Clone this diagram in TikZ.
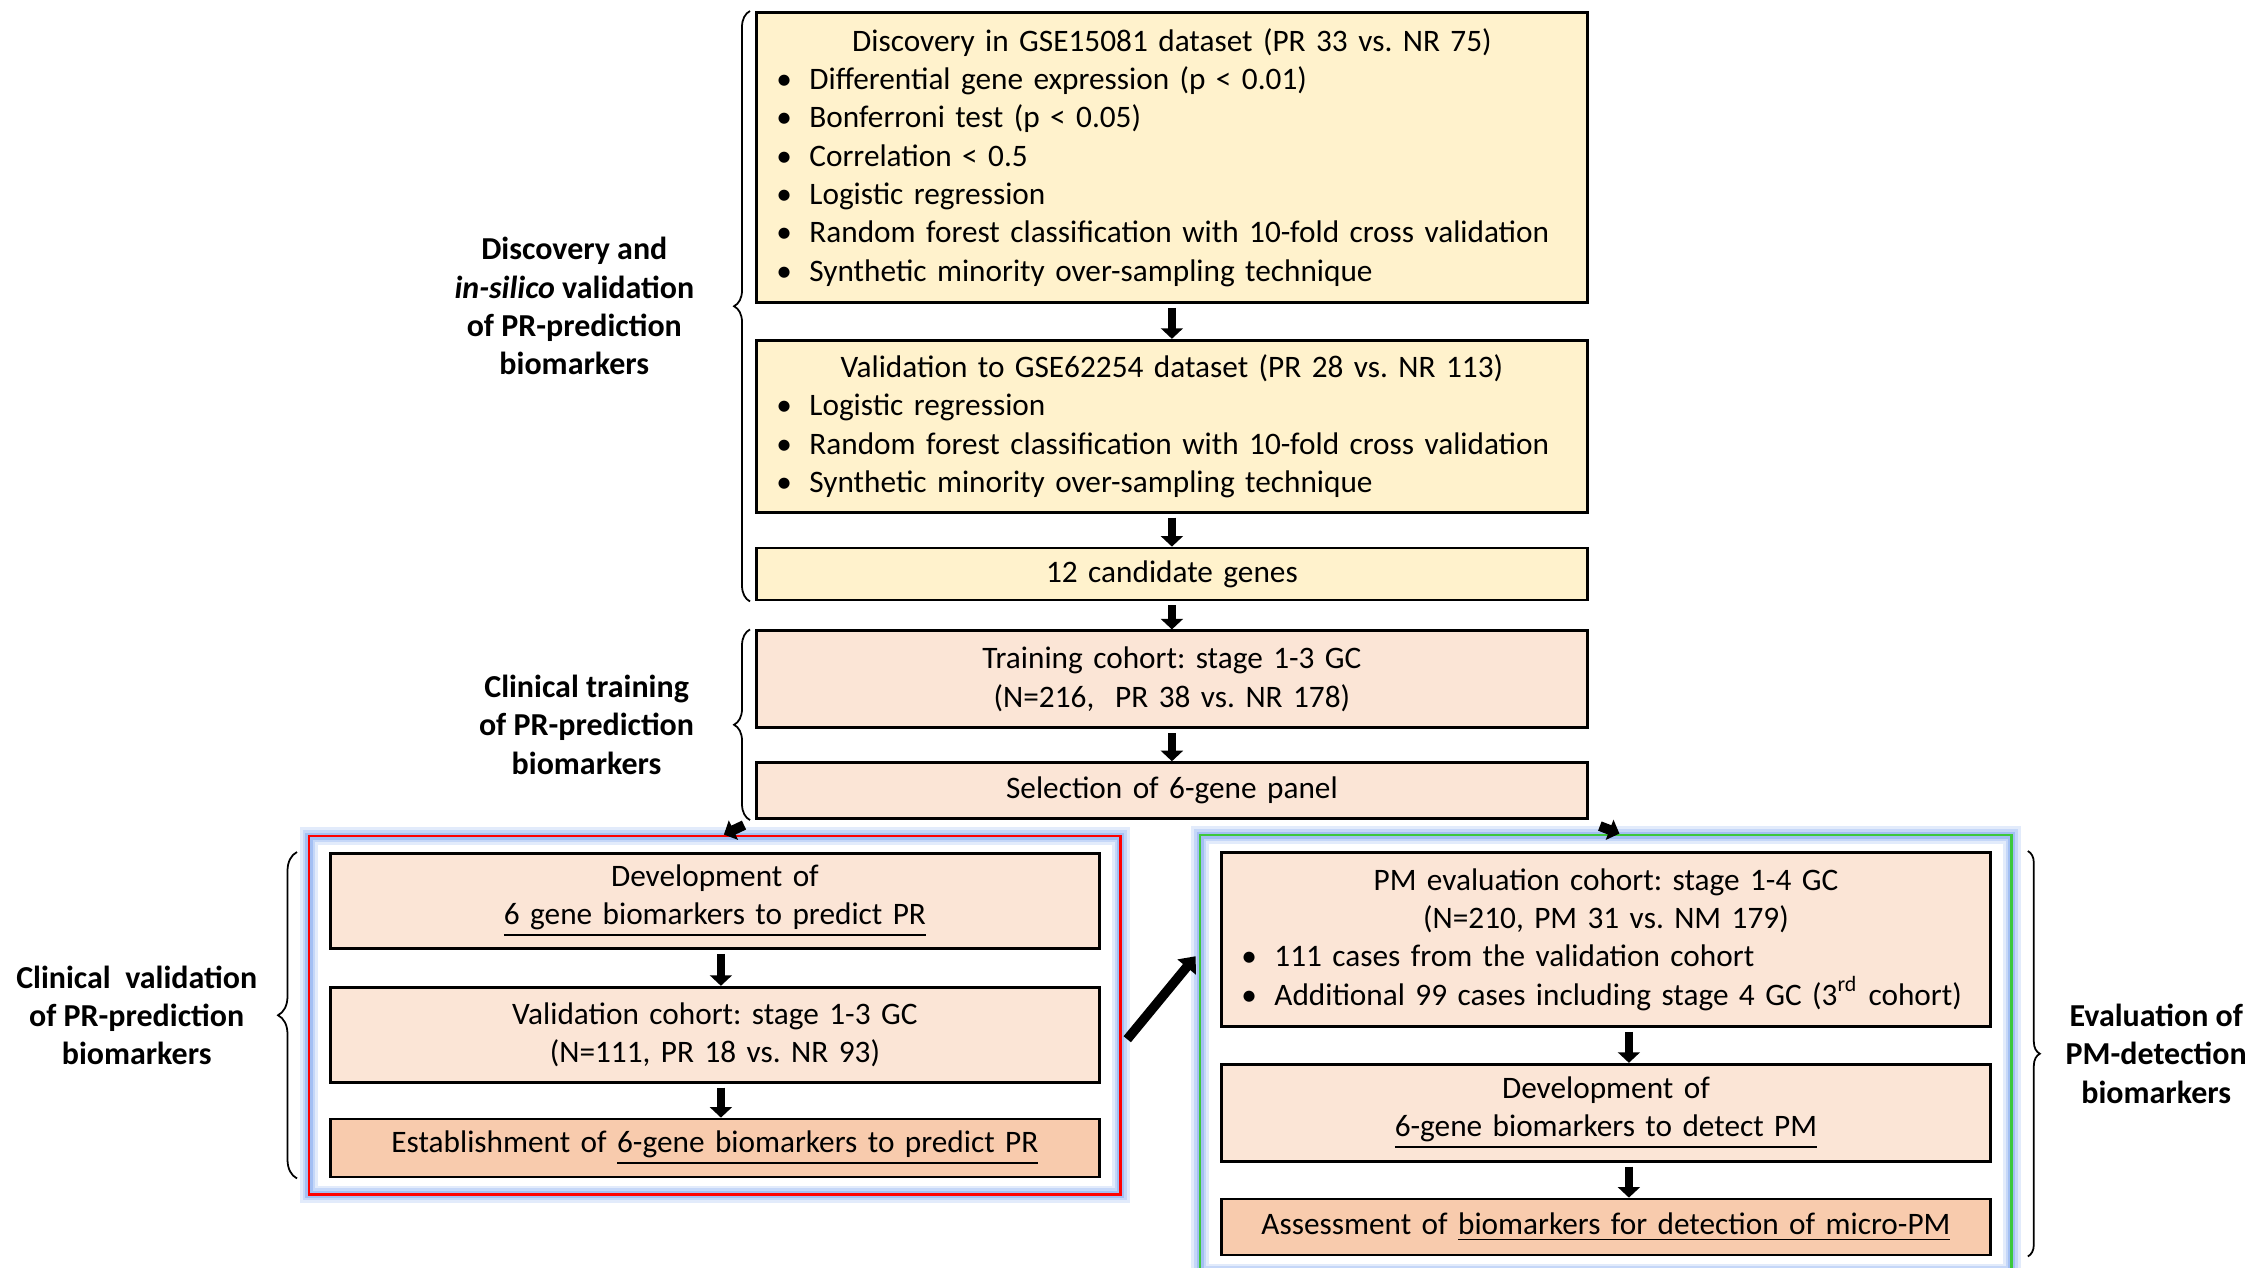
\documentclass[tikz,border=0pt]{standalone}
\usepackage{fontspec}
\setmainfont{Carlito}
\usetikzlibrary{arrows.meta, positioning, fit, decorations.pathreplacing}

\definecolor{candy}{RGB}{255,242,204}
\definecolor{peach}{RGB}{251,229,214}
\definecolor{apricot}{RGB}{248,203,173}
\definecolor{glowblue}{RGB}{140,175,240}
\definecolor{framegreen}{RGB}{60,200,60}

\newcommand{\midline}[1]{\hskip0pt plus1filll#1\hskip0pt plus1filll\null}
\newcommand{\bulit}[1]{\makebox[3.3mm][l]{\textbullet}#1}
\frenchspacing

\begin{document}
\begin{tikzpicture}[
    x=1mm, y=-1mm,
    node distance=3.4mm,
    every node/.style={font=\fontsize{8.9pt}{10.9pt}\selectfont},
    box/.style={rectangle, draw, line width=0.8pt, inner xsep=2mm, inner ysep=1mm, align=center},
    wide/.style={box, text width=79.1mm, minimum width=83.1mm},
    slim/.style={box, text width=72.9mm, minimum width=76.9mm},
    grp/.style={inner sep=0pt, align=center, font=\fontsize{9.1pt}{10.9pt}\selectfont\bfseries},
    curly/.style={decorate, decoration={brace, amplitude=#1}, line width=0.5pt},
    frame/.style={draw=#1, line width=0.8pt, inner xsep=2mm, inner ysep=1.6mm,
        preaction={draw=glowblue!25, line width=5pt},
        preaction={draw=glowblue!50, line width=3.4pt},
        preaction={draw=glowblue!80, line width=2pt}},
    arr/.style={line width=2.3pt, -{Triangle[width=6.2pt, length=3pt]}},
    fat/.style={line width=2.7pt, -{Triangle[width=6.6pt, length=4pt]}},
    stub/.style={line width=2.8pt, -{Triangle[width=6pt, length=3pt]}},
]
\useasboundingbox (0,0) rectangle (225,126.7);

% Discovery and in-silico validation
\node[wide, fill=candy, align=left, minimum height=29mm, anchor=north west] (disc) at (75.5,1.1) {\midline{Discovery in GSE15081 dataset (PR 33 vs. NR 75)}\\
\bulit{Differential gene expression (p < 0.01)}\\
\bulit{Bonferroni test (p < 0.05)}\\
\bulit{Correlation < 0.5}\\
\bulit{Logistic regression}\\
\bulit{Random forest classification with 10-fold cross validation}\\
\bulit{Synthetic minority over-sampling technique}};
\node[wide, fill=candy, align=left, minimum height=17.2mm, below=3.5mm of disc] (valid) {\midline{Validation to GSE62254 dataset (PR 28 vs. NR 113)}\\
\bulit{Logistic regression}\\
\bulit{Random forest classification with 10-fold cross validation}\\
\bulit{Synthetic minority over-sampling technique}};
\node[wide, fill=candy, minimum height=5.2mm, below=3.3mm of valid] (cand) {12 candidate genes};

% Clinical training
\node[wide, fill=peach, minimum height=9.7mm, below=2.8mm of cand] (train) {Training cohort: stage 1-3 GC\\(N=216,\ \ PR 38 vs. NR 178)};
\node[wide, fill=peach, minimum height=5.6mm, below=3.2mm of train] (select) {Selection of 6-gene panel};

% Clinical validation (left)
\node[slim, fill=peach, minimum height=9.5mm, anchor=north west] (dev) at (32.9,85.2) {Development of\\\underline{6 gene biomarkers to predict PR}};
\node[slim, fill=peach, minimum height=9.5mm, below=3.6mm of dev] (valc) {Validation cohort: stage 1-3 GC\\(N=111, PR 18 vs. NR 93)};
\node[slim, fill=apricot, minimum height=5.8mm, below=3.4mm of valc] (est) {Establishment of \underline{6-gene biomarkers to predict PR}};

% Evaluation of PM detection (right)
\node[slim, fill=peach, align=left, minimum height=17.4mm, anchor=north west] (pm) at (122,85.1) {\midline{PM evaluation cohort: stage 1-4 GC}\\
\midline{(N=210, PM 31 vs. NM 179)}\\
\bulit{111 cases from the validation cohort}\\
\bulit{Additional 99 cases including stage 4 GC (3\textsuperscript{rd} cohort)}};
\node[slim, fill=peach, minimum height=9.7mm, below=3.5mm of pm] (devpm) {Development of\\\underline{6-gene biomarkers to detect PM}};
\node[slim, fill=apricot, minimum height=5.6mm, below=3.5mm of devpm] (assess) {Assessment of \underline{biomarkers for detection of micro-PM}};

% Frames
\node[frame=red, fit=(dev)(valc)(est)] (lframe) {};
\node[frame=framegreen, fit=(pm)(devpm)(assess)] (rframe) {};

% Vertical flow
\draw[arr, shorten <=0.4mm] (disc) -- (valid);
\draw[arr, shorten <=0.4mm] (valid) -- (cand);
\draw[arr, shorten <=0.4mm] (cand) -- (train);
\draw[arr, shorten <=0.4mm] (train) -- (select);
\draw[arr, shorten <=0.4mm] ([xshift=0.6mm]dev.south) -- ([xshift=0.6mm]valc.north);
\draw[arr, shorten <=0.4mm] ([xshift=0.6mm]valc.south) -- ([xshift=0.6mm]est.north);
\draw[arr, shorten <=0.4mm] ([xshift=2.3mm]pm.south) -- ([xshift=2.3mm]devpm.north);
\draw[arr, shorten <=0.4mm] ([xshift=2.3mm]devpm.south) -- ([xshift=2.3mm]assess.north);

% Split to both branches
\draw[stub] ([shift={(-1.1mm,-0.5mm)}]select.south west) -- ([xshift=0.9mm]lframe.north);
\draw[stub] ([shift={(1.1mm,-0.6mm)}]select.south east) -- ([xshift=1.35mm]rframe.north);
\draw[fat] ([shift={(0.5mm,-2.4mm)}]lframe.east) -- ([shift={(-0.3mm,9.75mm)}]rframe.west);

% Braces and group labels
\draw[curly=1.6mm] ([xshift=-0.5mm]cand.south west) -- ([xshift=-0.5mm]disc.north west)
    node[midway, left=5.5mm, grp] (grpdisc) {Discovery and\\\textit{in-silico} validation\\of PR-prediction\\biomarkers};
\draw[curly=1.6mm] ([xshift=-0.5mm]select.south west) -- ([xshift=-0.5mm]train.north west)
    node[midway, left=5.5mm, grp] (grptrain) {Clinical training\\of PR-prediction\\biomarkers};
\draw[curly=1.9mm] ([xshift=-3.2mm]est.south west) -- ([xshift=-3.2mm]dev.north west)
    node[midway, left=3.9mm, grp] (grpval) {Clinical\ \ validation\\of PR-prediction\\biomarkers};
\draw[curly=1.2mm] ([xshift=3.6mm]pm.north east) -- ([xshift=3.6mm]assess.south east)
    node[midway, right=3.7mm, grp] (grppm) {Evaluation of\\PM-detection\\biomarkers};

\end{tikzpicture}
\end{document}
